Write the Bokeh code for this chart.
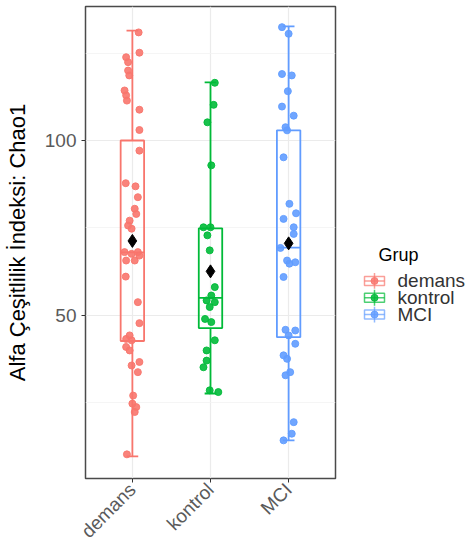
from bokeh.plotting import figure
from bokeh.models import Range1d, FixedTicker, ColumnDataSource
from bokeh.layouts import row
from bokeh.core.properties import value
from bokeh.embed import file_html
from bokeh.resources import INLINE
import math

# ---------------- data ----------------
groups = ["demans", "kontrol", "MCI"]
colors = ["#F8766D", "#00BA38", "#619CFF"]

demans_vals = [130.9, 125.1, 123.8, 122.4, 120.0, 118.6, 114.3, 112.9, 111.4, 108.8,
               103.0, 97.1, 87.8, 86.9, 83.8, 80.5, 79.0, 77.1, 75.7, 74.8,
               68.1, 67.6, 68.1, 65.7, 65.7, 67.1, 61.1, 53.8, 47.8, 44.3,
               43.3, 42.9, 41.0, 40.0, 36.7, 35.7, 33.8, 27.1, 24.8, 23.8,
               22.4, 10.3]
demans_jit = [0.08, 0.09, -0.08, -0.055, -0.055, -0.04, -0.10, -0.08, -0.07, 0.09,
              0.09, 0.09, -0.085, 0.04, 0.07, 0.03, 0.05, -0.035, -0.055, -0.01,
              -0.10, -0.01, 0.07, -0.08, 0.03, 0.09, -0.085, 0.07, 0.09, -0.035,
              -0.08, -0.01, -0.08, -0.035, 0.09, -0.01, 0.07, 0.01, 0.0, 0.05,
              0.03, -0.07]

kontrol_vals = [116.5, 110.2, 105.2, 92.9, 75.2, 75.2, 72.9, 68.6, 58.1, 55.7,
                54.3, 53.8, 52.4, 49.0, 48.1, 42.9, 40.0, 37.1, 35.2, 28.6, 28.1]
kontrol_jit = [0.055, 0.04, -0.04, 0.01, -0.09, 0.0, -0.04, -0.01, 0.055, 0.01,
               -0.05, 0.055, -0.01, -0.07, 0.01, 0.055, -0.05, -0.05, -0.09, -0.01, 0.10]

mci_vals = [132.4, 130.5, 119.0, 118.6, 114.1, 109.7, 107.1, 103.8, 102.9, 95.2,
            81.9, 79.2, 77.6, 75.2, 73.3, 69.3, 65.7, 65.2, 64.8, 61.0,
            45.9, 45.7, 44.3, 41.9, 38.6, 37.6, 33.8, 32.9, 19.5, 16.2, 14.3]
mci_jit = [-0.085, 0.0, -0.085, 0.04, -0.01, -0.085, 0.065, -0.04, -0.02, -0.065,
           0.01, 0.095, -0.065, 0.065, 0.065, -0.105, -0.02, 0.085, 0.01, -0.065,
           -0.04, 0.085, 0.0, 0.085, -0.065, -0.02, 0.02, -0.04, 0.065, 0.04, -0.065]

# box statistics
box_lower = [9.7, 27.7, 14.3]
box_q1 = [42.7, 46.4, 43.8]
box_median = [68.0, 55.0, 69.4]
box_q3 = [100.0, 74.9, 102.9]
box_upper = [131.4, 116.6, 132.6]
group_mean = [71.3, 62.6, 70.6]

y_ticks = [50, 100]
y_minor = [25, 75, 125]
y_title = "Alfa Çeşitlilik İndeksi: Chao1"
legend_title = "Grup"

# ---------------- main figure ----------------
FONT = "Liberation Sans"
TOP, BOTTOM = 6, 68
p = figure(frame_width=250, frame_height=472, output_backend="svg", toolbar_location=None,
           x_range=Range1d(0.4, 3.6), y_range=Range1d(3.4, 138.3),
           min_border_left=85, min_border_right=2, min_border_top=TOP,
           min_border_bottom=BOTTOM)
p.background_fill_color = "white"
p.border_fill_color = "white"
p.outline_line_color = "#4a4a4a"
p.outline_line_width = 1.5

p.xaxis.ticker = FixedTicker(ticks=[1, 2, 3])
p.xaxis.major_label_overrides = {1: groups[0], 2: groups[1], 3: groups[2]}
p.xaxis.major_label_orientation = math.pi / 4
p.yaxis.ticker = FixedTicker(ticks=y_ticks, minor_ticks=y_minor)
p.yaxis.axis_label = y_title

for ax in (p.xaxis, p.yaxis):
    ax.axis_line_color = None
    ax.major_tick_line_color = "#333333"
    ax.major_tick_out = 4
    ax.major_tick_in = 0
    ax.minor_tick_line_color = None
    ax.major_label_text_font = FONT
    ax.major_label_text_font_size = "19px"
    ax.major_label_text_color = "#5a5a5a"
p.xaxis.major_label_standoff = 4
p.yaxis.major_label_standoff = 5
p.yaxis.axis_label_text_font = FONT
p.yaxis.axis_label_text_font_size = "22px"
p.yaxis.axis_label_text_font_style = "normal"
p.yaxis.axis_label_text_color = "#000000"
p.yaxis.axis_label_standoff = 12

p.xgrid.grid_line_color = "#ebebeb"
p.xgrid.grid_line_width = 1.2
p.ygrid.grid_line_color = "#ebebeb"
p.ygrid.grid_line_width = 1.2
p.ygrid.minor_grid_line_color = "#f2f2f2"
p.ygrid.minor_grid_line_width = 0.8

vals_all = [demans_vals, kontrol_vals, mci_vals]
jit_all = [demans_jit, kontrol_jit, mci_jit]

BW = 0.3
CAP = 0.15
LW = 1.8
for i, g in enumerate(groups):
    xc = i + 1
    col = colors[i]
    bsrc = ColumnDataSource(dict(x=[xc], left=[xc - BW / 2], right=[xc + BW / 2],
                                 q1=[box_q1[i]], q3=[box_q3[i]], med=[box_median[i]],
                                 lo=[box_lower[i]], hi=[box_upper[i]],
                                 cl=[xc - CAP / 2], cr=[xc + CAP / 2]))
    p.segment(x0="x", y0="q3", x1="x", y1="hi", source=bsrc, line_color=col, line_width=LW)
    p.segment(x0="x", y0="lo", x1="x", y1="q1", source=bsrc, line_color=col, line_width=LW)
    p.segment(x0="cl", y0="hi", x1="cr", y1="hi", source=bsrc, line_color=col, line_width=LW)
    p.segment(x0="cl", y0="lo", x1="cr", y1="lo", source=bsrc, line_color=col, line_width=LW)
    p.quad(left="left", right="right", bottom="q1", top="q3", source=bsrc,
           fill_color=None, line_color=col, line_width=LW)
    p.segment(x0="left", y0="med", x1="right", y1="med", source=bsrc,
              line_color=col, line_width=LW)
    psrc = ColumnDataSource(dict(x=[xc + j for j in jit_all[i]], y=vals_all[i]))
    p.scatter(x="x", y="y", source=psrc, size=7, fill_color=col, line_color=col,
              fill_alpha=0.9, line_alpha=0.9)

msrc = ColumnDataSource(dict(x=[1, 2, 3], y=group_mean))
p.scatter(x="x", y="y", source=msrc, marker="diamond", size=13,
          fill_color="black", line_color="black")

# ---------------- legend panel (separate figure, page-pixel coordinates) ----------------
LW_W, LW_H = 130, 546
lg = figure(width=LW_W, height=LW_H, output_backend="svg", toolbar_location=None,
            x_range=Range1d(0, LW_W), y_range=Range1d(LW_H - BOTTOM, TOP),
            x_axis_location=None, y_axis_location=None,
            min_border_left=0, min_border_right=0, min_border_top=TOP,
            min_border_bottom=BOTTOM)
lg.outline_line_color = None
lg.xgrid.visible = False
lg.ygrid.visible = False
lg.background_fill_color = "white"
lg.border_fill_color = "white"

KX = 37          # key centre x
TITLE_Y = 258
ROW0 = 284
ROW_STEP = 17
lg.text(x=[41], y=[TITLE_Y], text=[legend_title], text_font=value(FONT),
        text_font_size=value("18px"), text_baseline="middle", text_color="#000000")
for i, g in enumerate(groups):
    cy = ROW0 + i * ROW_STEP
    col = colors[i]
    ksrc = ColumnDataSource(dict(x=[KX], l=[KX - 10], r=[KX + 10], t=[cy - 4.5], b=[cy + 4.5],
                                 wt=[cy - 8], wb=[cy + 8], y=[cy]))
    lg.segment(x0="x", y0="wt", x1="x", y1="wb", source=ksrc, line_color=col,
               line_width=1.5, line_alpha=0.7)
    lg.quad(left="l", right="r", top="t", bottom="b", source=ksrc, fill_color=None,
            line_color=col, line_width=1.5, line_alpha=0.7)
    lg.segment(x0="l", y0="y", x1="r", y1="y", source=ksrc, line_color=col,
               line_width=1.5, line_alpha=0.7)
    lg.scatter(x="x", y="y", source=ksrc, size=7, fill_color=col, line_color=col,
               fill_alpha=0.85, line_alpha=0.85)
    lg.text(x=[60], y=[cy], text=[g], text_font=value(FONT),
            text_font_size=value("19px"), text_baseline="middle", text_color="#333333")

layout = row(p, lg)
open("out.html", "w").write(file_html(layout, INLINE))
